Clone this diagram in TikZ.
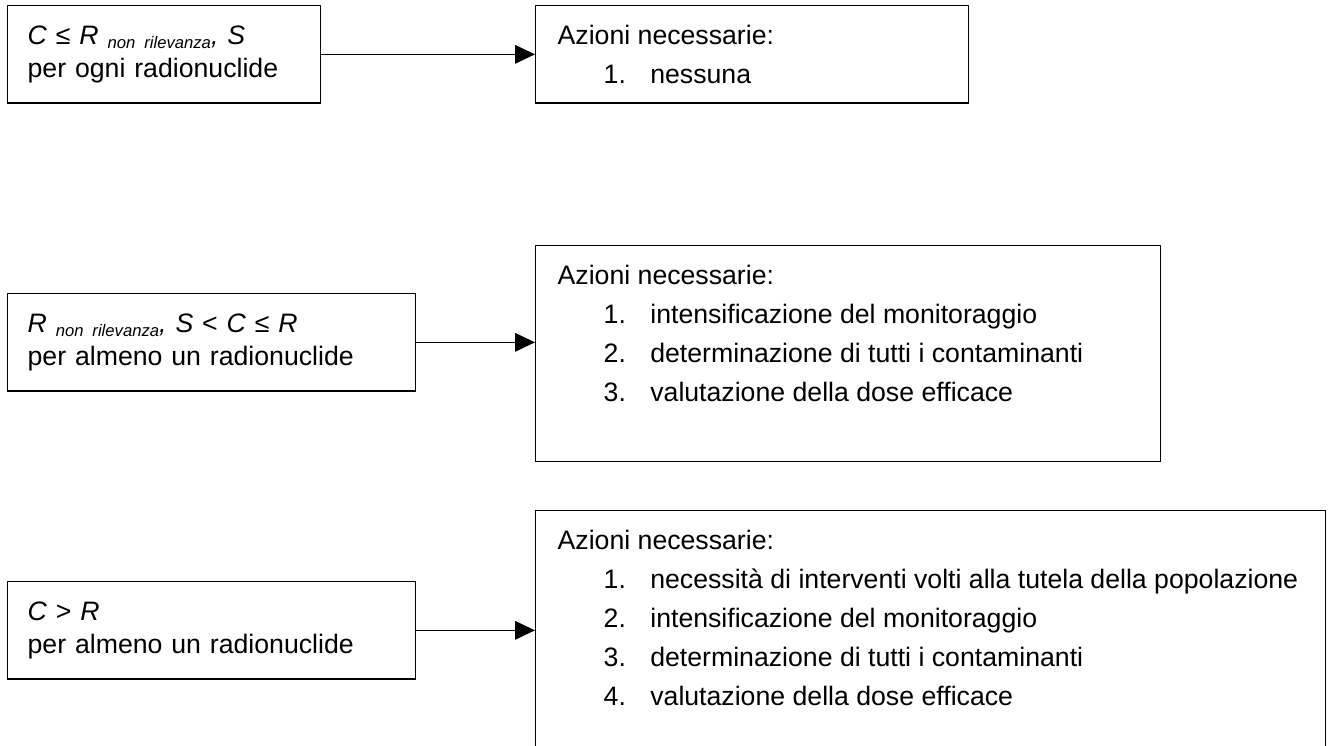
\documentclass[tikz,border=0pt]{standalone}
\usepackage{fontspec}
\setmainfont{Liberation Sans}
\usetikzlibrary{arrows.meta}

\begin{document}
\begin{tikzpicture}[x=0.75pt,y=-0.75pt,line width=1pt,
    font=\fontsize{20}{24.75}\selectfont,
    cond/.style={draw,anchor=north west,align=left,inner xsep=15pt,
      minimum height=73pt},
    act/.style={draw,anchor=north west,inner sep=0pt},
    list/.style={anchor=north west,inner sep=0pt,align=left,
      font=\fontsize{20}{29.25}\selectfont},
    arr/.style={-{Triangle[length=15pt,width=14pt]}}]
  \clip (0,0) rectangle (1328,746);
  \node[cond,text width=204.75pt] (c1) at (7,5)
    {\textit{C} ≤ \textit{R} {\fontsize{12.5}{12.5}\selectfont\raisebox{-3pt}{\textit{non rilevanza}}}\textit{, S}\\
     per ogni radionuclide};
  \node[cond,text width=276pt] (c2) at (7,293)
    {\textit{R} {\fontsize{12.5}{12.5}\selectfont\raisebox{-3pt}{\textit{non rilevanza}}}\textit{, S} < \textit{C} ≤ \textit{R}\\
     per almeno un radionuclide};
  \node[cond,text width=276pt] (c3) at (7,581)
    {\textit{C} > \textit{R}\\
     per almeno un radionuclide};
  \node[act,minimum width=324.75pt,minimum height=73pt]  (r1) at (535,5){};
  \node[act,minimum width=468.75pt,minimum height=162pt] (r2) at (535,245){};
  \node[act,minimum width=592.5pt,minimum height=240pt]  (r3) at (535,510){};
  \node[list] (t1) at ([shift={(22,20)}]r1.north west)
    {Azioni necessarie:\\
     \hspace*{34.5pt}\makebox[35pt][l]{1.}nessuna};
  \node[list] (t2) at ([shift={(22,20)}]r2.north west)
    {Azioni necessarie:\\
     \hspace*{34.5pt}\makebox[35pt][l]{1.}intensificazione del monitoraggio\\
     \hspace*{34.5pt}\makebox[35pt][l]{2.}determinazione di tutti i contaminanti\\
     \hspace*{34.5pt}\makebox[35pt][l]{3.}valutazione della dose efficace};
  \node[list] (t3) at ([shift={(22,20)}]r3.north west)
    {Azioni necessarie:\\
     \hspace*{34.5pt}\makebox[35pt][l]{1.}necessità di interventi volti alla tutela della popolazione\\
     \hspace*{34.5pt}\makebox[35pt][l]{2.}intensificazione del monitoraggio\\
     \hspace*{34.5pt}\makebox[35pt][l]{3.}determinazione di tutti i contaminanti\\
     \hspace*{34.5pt}\makebox[35pt][l]{4.}valutazione della dose efficace};
  \draw[arr] (c1.east) -- (c1.east -| r1.west);
  \draw[arr] (c2.east) -- (c2.east -| r2.west);
  \draw[arr] (c3.east) -- (c3.east -| r3.west);
\end{tikzpicture}
\end{document}
